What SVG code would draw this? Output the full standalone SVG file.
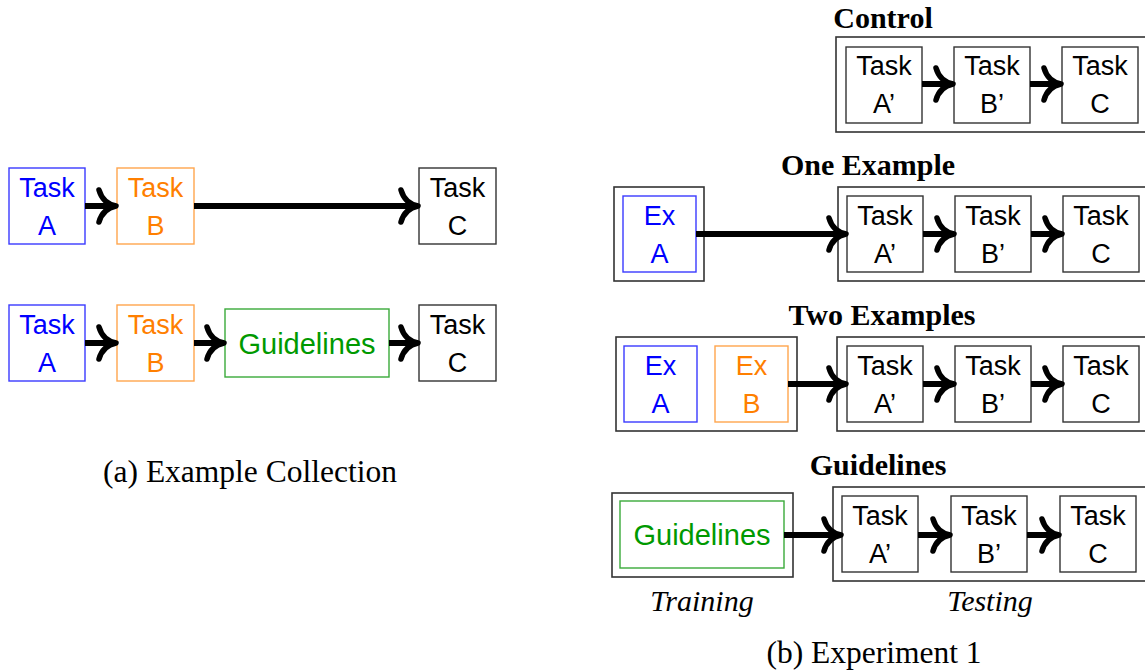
<svg xmlns="http://www.w3.org/2000/svg" width="1145" height="672" viewBox="0 0 1145 672">
<defs>
<style>
.bx{fill:#fff;stroke-width:1.4}
.k{stroke:#333}
.o{stroke:#333;fill:none;stroke-width:1.6}
.bl{stroke:#3a3aff}
.or{stroke:#ffa54d}
.gr{stroke:#3aaa3a}
.t{font-family:"Liberation Sans",Arial,sans-serif;font-size:27px;text-anchor:middle}
.g{font-size:29px}
.tk{fill:#000}
.tb{fill:#0000ff}
.to{fill:#ff7f00}
.tg{fill:#009900}
.h{font-family:"Liberation Serif","Times New Roman",serif;font-size:30px;font-weight:bold;text-anchor:middle;fill:#000}
.i{font-family:"Liberation Serif","Times New Roman",serif;font-size:30px;font-style:italic;text-anchor:middle;fill:#000}
.c{font-family:"Liberation Serif","Times New Roman",serif;font-size:31.5px;text-anchor:middle;fill:#000}
.ln{stroke:#000;stroke-width:6;fill:none;marker-end:url(#ah)}
</style>
<marker id="ah" markerUnits="userSpaceOnUse" viewBox="-20 -22 24 44" refX="0" refY="0" markerWidth="24" markerHeight="44" orient="auto" overflow="visible">
<path d="M-16,-16 C-14,-9 -9,-2 1,0 C-9,2 -14,9 -16,16" fill="none" stroke="#000" stroke-width="5.5" stroke-linecap="round" stroke-linejoin="round"/>
</marker>
</defs>
<rect width="1145" height="672" fill="#fff"/>

<!-- Left panel (a) -->
<g id="a-row1-taskA"><rect class="bx bl" x="9" y="168" width="76" height="76"/><text class="t tb" x="47" y="197">Task</text><text class="t tb" x="47" y="235">A</text></g>
<g id="a-row1-taskB"><rect class="bx or" x="117" y="168" width="77" height="76"/><text class="t to" x="155.5" y="197">Task</text><text class="t to" x="155.5" y="235">B</text></g>
<g id="a-row1-taskC"><rect class="bx k" x="419" y="168" width="77" height="76"/><text class="t tk" x="457.5" y="197">Task</text><text class="t tk" x="457.5" y="235">C</text></g>
<g id="a-row2-taskA"><rect class="bx bl" x="9" y="305" width="76" height="76"/><text class="t tb" x="47" y="334">Task</text><text class="t tb" x="47" y="372">A</text></g>
<g id="a-row2-taskB"><rect class="bx or" x="117" y="305" width="77" height="76"/><text class="t to" x="155.5" y="334">Task</text><text class="t to" x="155.5" y="372">B</text></g>
<g id="a-row2-guidelines"><rect class="bx gr" x="225" y="309" width="164" height="68"/><text class="t tg g" x="307" y="354">Guidelines</text></g>
<g id="a-row2-taskC"><rect class="bx k" x="419" y="305" width="77" height="76"/><text class="t tk" x="457.5" y="334">Task</text><text class="t tk" x="457.5" y="372">C</text></g>
<text class="c" x="250" y="482">(a) Example Collection</text>

<!-- Right panel (b) -->
<text class="h" x="883" y="28">Control</text>
<g id="control-testing"><rect class="o" x="836" y="37" width="320" height="95"/></g>
<g id="control-taskA"><rect class="bx k" x="846" y="47" width="76" height="76"/><text class="t tk" x="884" y="75">Task</text><text class="t tk" x="884" y="113">A’</text></g>
<g id="control-taskB"><rect class="bx k" x="954" y="47" width="76" height="76"/><text class="t tk" x="992" y="75">Task</text><text class="t tk" x="992" y="113">B’</text></g>
<g id="control-taskC"><rect class="bx k" x="1062" y="47" width="76" height="76"/><text class="t tk" x="1100" y="75">Task</text><text class="t tk" x="1100" y="113">C</text></g>

<text class="h" x="868" y="175">One Example</text>
<g id="one-training"><rect class="o" x="614" y="187" width="90" height="94"/></g>
<g id="one-exA"><rect class="bx bl" x="623" y="196" width="73" height="76"/><text class="t tb" x="659.5" y="225">Ex</text><text class="t tb" x="659.5" y="263">A</text></g>
<g id="one-testing"><rect class="o" x="838" y="187" width="320" height="94"/></g>
<g id="one-taskA"><rect class="bx k" x="847" y="196" width="76" height="76"/><text class="t tk" x="885" y="225">Task</text><text class="t tk" x="885" y="263">A’</text></g>
<g id="one-taskB"><rect class="bx k" x="955" y="196" width="76" height="76"/><text class="t tk" x="993" y="225">Task</text><text class="t tk" x="993" y="263">B’</text></g>
<g id="one-taskC"><rect class="bx k" x="1063" y="196" width="76" height="76"/><text class="t tk" x="1101" y="225">Task</text><text class="t tk" x="1101" y="263">C</text></g>

<text class="h" x="882" y="325">Two Examples</text>
<g id="two-training"><rect class="o" x="616" y="337" width="181" height="94"/></g>
<g id="two-exA"><rect class="bx bl" x="624" y="346" width="73" height="76"/><text class="t tb" x="660.5" y="375">Ex</text><text class="t tb" x="660.5" y="413">A</text></g>
<g id="two-exB"><rect class="bx or" x="715" y="346" width="73" height="76"/><text class="t to" x="751.5" y="375">Ex</text><text class="t to" x="751.5" y="413">B</text></g>
<g id="two-testing"><rect class="o" x="837" y="337" width="320" height="94"/></g>
<g id="two-taskA"><rect class="bx k" x="847" y="346" width="76" height="76"/><text class="t tk" x="885" y="375">Task</text><text class="t tk" x="885" y="413">A’</text></g>
<g id="two-taskB"><rect class="bx k" x="955" y="346" width="76" height="76"/><text class="t tk" x="993" y="375">Task</text><text class="t tk" x="993" y="413">B’</text></g>
<g id="two-taskC"><rect class="bx k" x="1063" y="346" width="76" height="76"/><text class="t tk" x="1101" y="375">Task</text><text class="t tk" x="1101" y="413">C</text></g>

<text class="h" x="878" y="475">Guidelines</text>
<g id="guide-training"><rect class="o" x="612" y="493" width="181" height="84"/></g>
<g id="guide-guidelines"><rect class="bx gr" x="620" y="501" width="164" height="67"/><text class="t tg g" x="702" y="545">Guidelines</text></g>
<g id="guide-testing"><rect class="o" x="833" y="487" width="320" height="94"/></g>
<g id="guide-taskA"><rect class="bx k" x="842" y="496" width="76" height="76"/><text class="t tk" x="880" y="525">Task</text><text class="t tk" x="880" y="563">A’</text></g>
<g id="guide-taskB"><rect class="bx k" x="951" y="496" width="76" height="76"/><text class="t tk" x="989" y="525">Task</text><text class="t tk" x="989" y="563">B’</text></g>
<g id="guide-taskC"><rect class="bx k" x="1060" y="496" width="76" height="76"/><text class="t tk" x="1098" y="525">Task</text><text class="t tk" x="1098" y="563">C</text></g>

<text class="i" x="702" y="611">Training</text>
<text class="i" x="990" y="611">Testing</text>
<text class="c" x="874" y="663">(b) Experiment 1</text>

<g id="connectors">
<path class="ln" d="M85,206 H115"/>
<path class="ln" d="M194,206 H417"/>
<path class="ln" d="M85,343 H115"/>
<path class="ln" d="M194,343 H223"/>
<path class="ln" d="M389,343 H417"/>
<path class="ln" d="M922,84 H952"/>
<path class="ln" d="M1030,84 H1060"/>
<path class="ln" d="M696,234 H845"/>
<path class="ln" d="M923,234 H953"/>
<path class="ln" d="M1031,234 H1061"/>
<path class="ln" d="M788,384 H845"/>
<path class="ln" d="M923,384 H953"/>
<path class="ln" d="M1031,384 H1061"/>
<path class="ln" d="M784,535 H840"/>
<path class="ln" d="M918,535 H949"/>
<path class="ln" d="M1027,535 H1058"/>
</g>
</svg>
